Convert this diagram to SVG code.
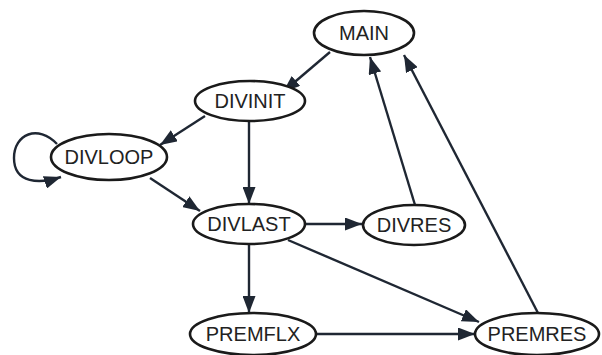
<svg xmlns="http://www.w3.org/2000/svg" width="602" height="355" viewBox="0 0 602 355">
<style>
.n ellipse{fill:#fff;stroke:#1a1a1a;stroke-width:2.6}
.n text{font-family:"Liberation Sans",Arial,sans-serif;font-size:20px;fill:#222;text-anchor:middle;dominant-baseline:central}
.e path{fill:none;stroke:#1f2733;stroke-width:2.4}
</style>
<defs>
<marker id="a" viewBox="0 0 17 13" refX="17" refY="6.5" markerWidth="17" markerHeight="13" markerUnits="userSpaceOnUse" orient="auto">
<path d="M0,0 L17,6.5 L0,13 Z" fill="#1f2733"/>
</marker>
</defs>
<rect width="602" height="355" fill="#fff"/>
<g class="e">
<path d="M330,52 L283,92" marker-end="url(#a)"/>
<path d="M205,116 L160,145" marker-end="url(#a)"/>
<path d="M249,121 L249,204" marker-end="url(#a)"/>
<path d="M150,178 L200,211" marker-end="url(#a)"/>
<path d="M57,144 C38,124 14,134 14,158 C14,184 40,184 61,177" marker-end="url(#a)"/>
<path d="M305,224 L362,224" marker-end="url(#a)"/>
<path d="M249,244 L249,313" marker-end="url(#a)"/>
<path d="M288,240 L479,322" marker-end="url(#a)"/>
<path d="M316,334 L475,334" marker-end="url(#a)"/>
<path d="M415,205 L370,57" marker-end="url(#a)"/>
<path d="M538,313 L404,55" marker-end="url(#a)"/>
</g>
<g id="MAIN" class="n"><ellipse cx="364" cy="33" rx="50" ry="22"/><text x="364" y="33">MAIN</text></g>
<g id="DIVINIT" class="n"><ellipse cx="250" cy="101" rx="55" ry="20"/><text x="250" y="101">DIVINIT</text></g>
<g id="DIVLOOP" class="n"><ellipse cx="109" cy="157" rx="58" ry="23"/><text x="109" y="157">DIVLOOP</text></g>
<g id="DIVLAST" class="n"><ellipse cx="249" cy="224" rx="56" ry="20"/><text x="249" y="224">DIVLAST</text></g>
<g id="DIVRES" class="n"><ellipse cx="414" cy="225" rx="51" ry="20"/><text x="414" y="225">DIVRES</text></g>
<g id="PREMFLX" class="n"><ellipse cx="253" cy="334" rx="63" ry="21"/><text x="253" y="334">PREMFLX</text></g>
<g id="PREMRES" class="n"><ellipse cx="537" cy="334" rx="62" ry="21"/><text x="537" y="334">PREMRES</text></g>
</svg>
